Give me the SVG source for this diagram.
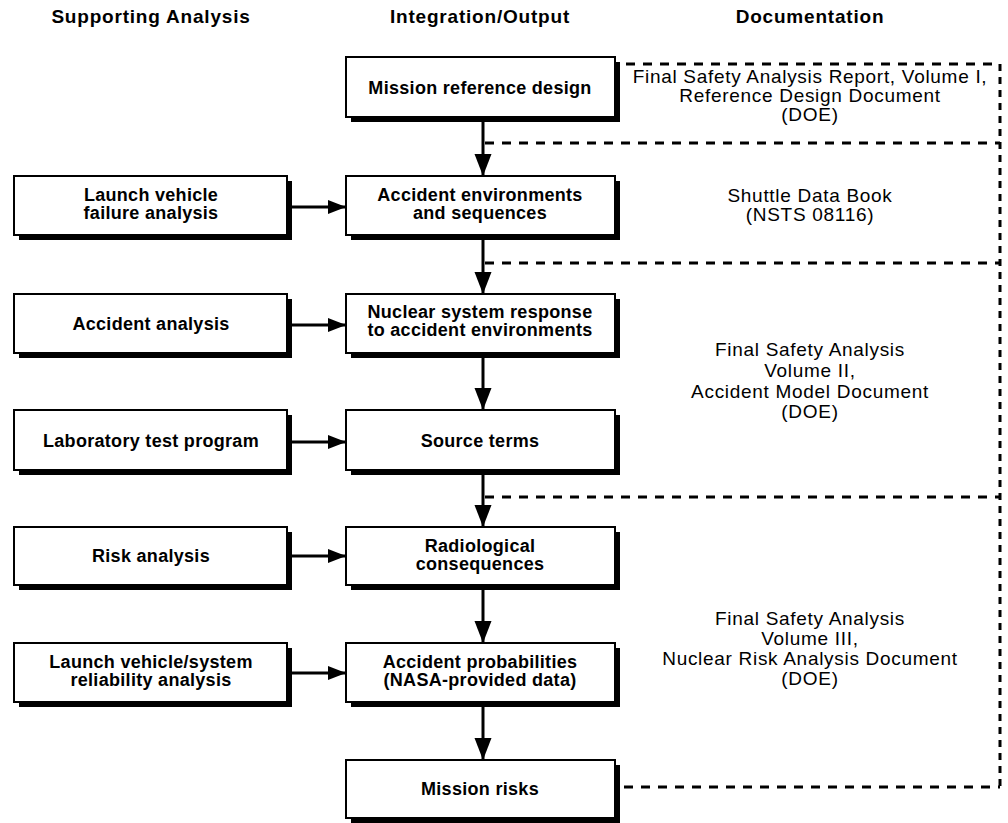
<svg xmlns="http://www.w3.org/2000/svg" width="1008" height="823" viewBox="0 0 1008 823">
  <style>
    .hdr { font-family: "Liberation Sans", Arial, sans-serif; font-size: 19px; font-weight: bold; letter-spacing: 0.8px; text-anchor: middle; fill: #000; }
    .box { fill: #fff; stroke: #000; stroke-width: 2; }
    .shadow { fill: #000; }
    .lbl { font-family: "Liberation Sans", Arial, sans-serif; font-size: 18px; font-weight: bold; letter-spacing: 0.3px; text-anchor: middle; fill: #000; }
    .doc { font-family: "Liberation Sans", Arial, sans-serif; font-size: 19px; letter-spacing: 0.7px; text-anchor: middle; fill: #000; }
    .flow { fill: none; stroke: #000; stroke-width: 3; }
    .dash { fill: none; stroke: #000; stroke-width: 3; stroke-dasharray: 9 8; }
    .dashv { fill: none; stroke: #000; stroke-width: 3; stroke-dasharray: 7 6; }
  </style>
  <defs>
    <marker id="arrowDown" markerUnits="userSpaceOnUse" markerWidth="22" markerHeight="18" refX="22" refY="8.5" orient="auto">
      <path d="M0,0 L22,8.5 L0,17 Z" fill="#000"/>
    </marker>
    <marker id="arrowRight" markerUnits="userSpaceOnUse" markerWidth="20" markerHeight="16" refX="18" refY="7" orient="auto">
      <path d="M0,0 L18,7 L0,14 Z" fill="#000"/>
    </marker>
  </defs>

  <rect width="1008" height="823" fill="#fff"/>

  <!-- column headings -->
  <g id="headers">
    <text class="hdr" x="151" y="23">Supporting Analysis</text>
    <text class="hdr" x="480" y="23">Integration/Output</text>
    <text class="hdr" x="810" y="23">Documentation</text>
  </g>

  <!-- connectors -->
  <g id="connectors">
    <!-- main flow down the centre column -->
    <line class="flow" x1="483" y1="122" x2="483" y2="176" marker-end="url(#arrowDown)"/>
    <line class="flow" x1="483" y1="240" x2="483" y2="294" marker-end="url(#arrowDown)"/>
    <line class="flow" x1="483" y1="358" x2="483" y2="410" marker-end="url(#arrowDown)"/>
    <line class="flow" x1="483" y1="475" x2="483" y2="527" marker-end="url(#arrowDown)"/>
    <line class="flow" x1="483" y1="590" x2="483" y2="643" marker-end="url(#arrowDown)"/>
    <line class="flow" x1="483" y1="707" x2="483" y2="760" marker-end="url(#arrowDown)"/>
    <!-- supporting analysis inputs -->
    <line class="flow" x1="292" y1="207" x2="346" y2="207" marker-end="url(#arrowRight)"/>
    <line class="flow" x1="292" y1="325" x2="346" y2="325" marker-end="url(#arrowRight)"/>
    <line class="flow" x1="292" y1="442" x2="346" y2="442" marker-end="url(#arrowRight)"/>
    <line class="flow" x1="292" y1="556" x2="346" y2="556" marker-end="url(#arrowRight)"/>
    <line class="flow" x1="292" y1="673" x2="346" y2="673" marker-end="url(#arrowRight)"/>
    <!-- documentation brackets -->
    <line class="dash" x1="626" y1="64" x2="1000" y2="64"/>
    <line class="dash" x1="485" y1="143" x2="1000" y2="143"/>
    <line class="dash" x1="485" y1="263" x2="1000" y2="263"/>
    <line class="dash" x1="485" y1="497" x2="1000" y2="497"/>
    <line class="dash" x1="624" y1="787" x2="1000" y2="787"/>
    <line class="dashv" x1="1000" y1="64" x2="1000" y2="787"/>
  </g>

  <!-- supporting analysis column -->
  <g id="launch-vehicle-failure">
    <rect class="shadow" x="19" y="181" width="273" height="59"/>
    <rect class="box" x="14" y="176" width="273" height="59"/>
    <text class="lbl" x="151" y="201">Launch vehicle</text>
    <text class="lbl" x="151" y="219">failure analysis</text>
  </g>
  <g id="accident-analysis">
    <rect class="shadow" x="19" y="299" width="273" height="59"/>
    <rect class="box" x="14" y="294" width="273" height="59"/>
    <text class="lbl" x="151" y="330">Accident analysis</text>
  </g>
  <g id="lab-test-program">
    <rect class="shadow" x="19" y="415" width="273" height="60"/>
    <rect class="box" x="14" y="410" width="273" height="60"/>
    <text class="lbl" x="151" y="447">Laboratory test program</text>
  </g>
  <g id="risk-analysis">
    <rect class="shadow" x="19" y="532" width="273" height="58"/>
    <rect class="box" x="14" y="527" width="273" height="58"/>
    <text class="lbl" x="151" y="562">Risk analysis</text>
  </g>
  <g id="reliability-analysis">
    <rect class="shadow" x="19" y="648" width="273" height="59"/>
    <rect class="box" x="14" y="643" width="273" height="59"/>
    <text class="lbl" x="151" y="668">Launch vehicle/system</text>
    <text class="lbl" x="151" y="686">reliability analysis</text>
  </g>

  <!-- integration / output column -->
  <g id="mission-reference-design">
    <rect class="shadow" x="351" y="62" width="269" height="60"/>
    <rect class="box" x="346" y="57" width="269" height="60"/>
    <text class="lbl" x="480" y="94">Mission reference design</text>
  </g>
  <g id="accident-environments">
    <rect class="shadow" x="351" y="181" width="269" height="59"/>
    <rect class="box" x="346" y="176" width="269" height="59"/>
    <text class="lbl" x="480" y="201">Accident environments</text>
    <text class="lbl" x="480" y="219">and sequences</text>
  </g>
  <g id="nuclear-system-response">
    <rect class="shadow" x="351" y="299" width="269" height="59"/>
    <rect class="box" x="346" y="294" width="269" height="59"/>
    <text class="lbl" x="480" y="318">Nuclear system response</text>
    <text class="lbl" x="480" y="336">to accident environments</text>
  </g>
  <g id="source-terms">
    <rect class="shadow" x="351" y="415" width="269" height="60"/>
    <rect class="box" x="346" y="410" width="269" height="60"/>
    <text class="lbl" x="480" y="447">Source terms</text>
  </g>
  <g id="radiological-consequences">
    <rect class="shadow" x="351" y="532" width="269" height="58"/>
    <rect class="box" x="346" y="527" width="269" height="58"/>
    <text class="lbl" x="480" y="552">Radiological</text>
    <text class="lbl" x="480" y="570">consequences</text>
  </g>
  <g id="accident-probabilities">
    <rect class="shadow" x="351" y="648" width="269" height="59"/>
    <rect class="box" x="346" y="643" width="269" height="59"/>
    <text class="lbl" x="480" y="668">Accident probabilities</text>
    <text class="lbl" x="480" y="686">(NASA-provided data)</text>
  </g>
  <g id="mission-risks">
    <rect class="shadow" x="351" y="765" width="269" height="58"/>
    <rect class="box" x="346" y="760" width="269" height="58"/>
    <text class="lbl" x="480" y="795">Mission risks</text>
  </g>

  <!-- documentation column -->
  <g id="doc-volume-1">
    <text class="doc" x="810" y="83">Final Safety Analysis Report, Volume I,</text>
    <text class="doc" x="810" y="102">Reference Design Document</text>
    <text class="doc" x="810" y="121">(DOE)</text>
  </g>
  <g id="doc-shuttle-data-book">
    <text class="doc" x="810" y="202">Shuttle Data Book</text>
    <text class="doc" x="810" y="221">(NSTS 08116)</text>
  </g>
  <g id="doc-volume-2">
    <text class="doc" x="810" y="356">Final Safety Analysis</text>
    <text class="doc" x="810" y="377">Volume II,</text>
    <text class="doc" x="810" y="398">Accident Model Document</text>
    <text class="doc" x="810" y="418">(DOE)</text>
  </g>
  <g id="doc-volume-3">
    <text class="doc" x="810" y="625">Final Safety Analysis</text>
    <text class="doc" x="810" y="645">Volume III,</text>
    <text class="doc" x="810" y="665">Nuclear Risk Analysis Document</text>
    <text class="doc" x="810" y="685">(DOE)</text>
  </g>
</svg>
